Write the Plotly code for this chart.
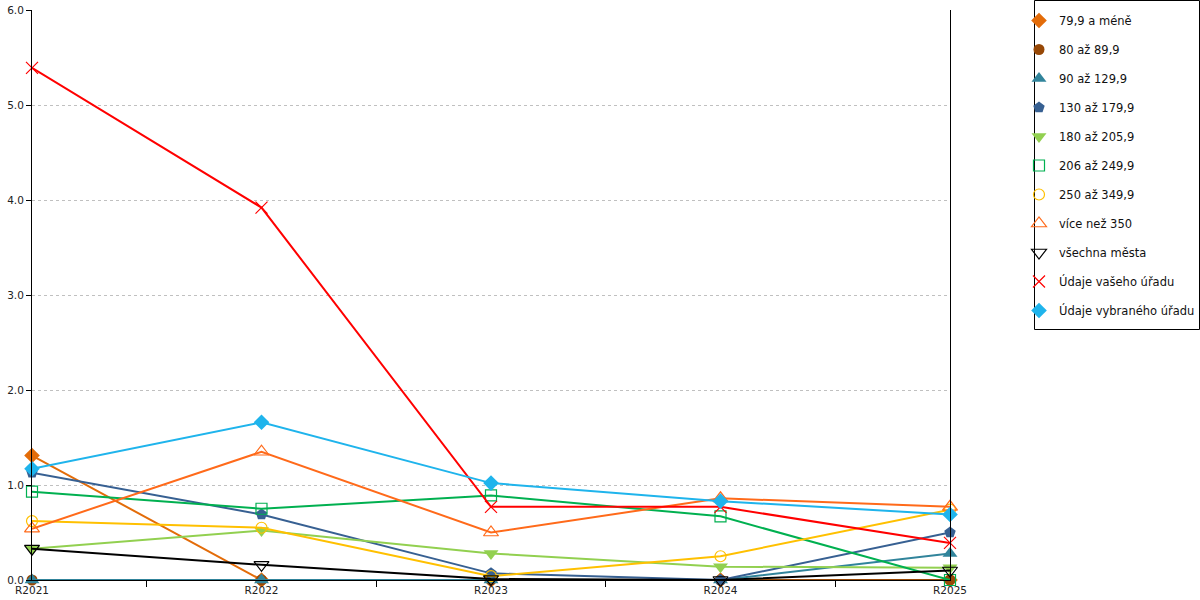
import plotly.graph_objects as go

categories = ["R2021", "R2022", "R2023", "R2024", "R2025"]

series_names = [
    "79,9 a méně", "80 až 89,9", "90 až 129,9", "130 až 179,9", "180 až 205,9",
    "206 až 249,9", "250 až 349,9", "více než 350", "všechna města",
    "Údaje vašeho úřadu", "Údaje vybraného úřadu",
]

s_79 = [1.31, 0.0, 0.0, 0.0, 0.0]
s_80 = [0.0, 0.0, 0.0, 0.0, 0.0]
s_90 = [0.0, 0.0, 0.0, 0.0, 0.28]
s_130 = [1.13, 0.69, 0.07, 0.0, 0.50]
s_180 = [0.33, 0.52, 0.28, 0.14, 0.13]
s_206 = [0.93, 0.75, 0.89, 0.67, 0.0]
s_250 = [0.62, 0.55, 0.04, 0.25, 0.74]
s_350 = [0.54, 1.35, 0.50, 0.86, 0.77]
s_all = [0.33, 0.16, 0.01, 0.0, 0.10]
s_yours = [5.39, 3.92, 0.77, 0.77, 0.39]
s_selected = [1.17, 1.66, 1.02, 0.83, 0.69]

values = [s_79, s_80, s_90, s_130, s_180, s_206, s_250, s_350, s_all, s_yours, s_selected]

colors = ["#e36c09", "#974806", "#31849b", "#376092", "#92d050",
          "#00b050", "#ffc000", "#ff6a1a", "#000000", "#ff0000", "#1fb4ec"]
symbols = ["diamond", "circle", "triangle-up", "pentagon", "triangle-down",
           "square-open", "circle-open", "triangle-up-open", "triangle-down-open",
           "x-thin-open", "diamond"]
sizes = [12, 11, 13, 12, 13, 11, 11, 13, 13, 12, 12]

fig = go.Figure()
for name, vals, col, sym, sz in zip(series_names, values, colors, symbols, sizes):
    open_sym = sym.endswith("open")
    marker = dict(color=col, symbol=sym, size=sz,
                  line=dict(color=col, width=1.2 if open_sym else 0))
    fig.add_trace(go.Scatter(
        x=categories, y=vals, mode="lines+markers", name=name,
        line=dict(color=col, width=2), marker=marker,
        showlegend=False, cliponaxis=False, legendgroup=name,
    ))
for name, col, sym, sz in zip(series_names, colors, symbols, sizes):
    open_sym = sym.endswith("open")
    marker = dict(color=col, symbol=sym, size=sz,
                  line=dict(color=col, width=1.2 if open_sym else 0))
    fig.add_trace(go.Scatter(
        x=[None], y=[None], mode="markers", name=name, marker=marker,
        showlegend=True, legendgroup=name,
    ))

fig.update_layout(
    width=1200, height=600,
    margin=dict(l=32, r=250, t=10, b=20, autoexpand=False),
    paper_bgcolor="white", plot_bgcolor="white",
    font=dict(family="DejaVu Sans", size=11, color="#222"),
    legend=dict(
        xref="container", yref="container",
        x=1019 / 1200, y=1 - 6 / 600, xanchor="left", yanchor="top",
        font=dict(size=11.5, color="#111"),
        bgcolor="rgba(0,0,0,0)", borderwidth=0,
        tracegroupgap=10, traceorder="grouped", maxheight=600,
    ),
    shapes=[dict(type="rect", xref="paper", yref="paper",
                 x0=(1034.5 - 32) / 918, x1=(1199.5 - 32) / 918,
                 y0=(580 - 329.5) / 570, y1=(580 - 0.5) / 570,
                 line=dict(color="black", width=1), fillcolor="rgba(0,0,0,0)")],
)
fig.update_xaxes(
    type="category", range=[0, 4], showgrid=False, automargin=False,
    showline=True, linecolor="black", linewidth=1,
    ticks="outside", ticklen=6, tickcolor="black", tickson="boundaries",
    tickfont=dict(size=10.5, color="#222"),
)
fig.update_yaxes(
    range=[0, 6], dtick=1, tickformat=".1f", automargin=False,
    showline=True, linecolor="black", linewidth=1, mirror=True,
    ticks="outside", ticklen=5, tickcolor="black",
    showgrid=True, gridcolor="#c0c0c0", griddash="3px,3px", gridwidth=1,
    zeroline=False, tickfont=dict(size=10.5, color="#222"),
)

fig.write_html("out.html", post_script="document.body.style.margin='0';",
               config={"displayModeBar": False})
